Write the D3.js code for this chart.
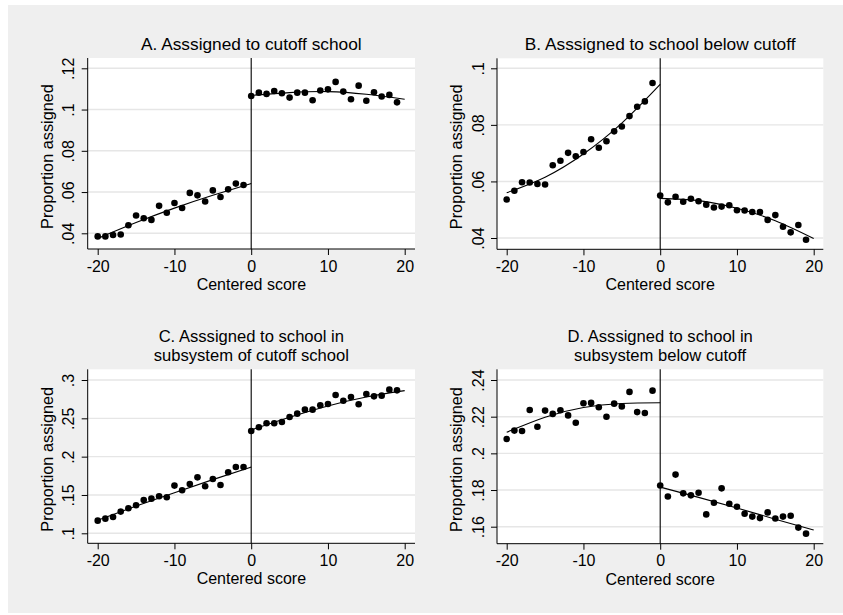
<!DOCTYPE html>
<html>
<head>
<meta charset="utf-8">
<script src="https://cdn.jsdelivr.net/npm/d3@7"></script>
<style>
  html, body { margin: 0; padding: 0; background: #ffffff; }
  svg { display: block; font-family: "Liberation Sans", Arial, Helvetica, sans-serif; }
</style>
</head>
<body>
<svg id="chart" width="843" height="615"></svg>
<script>
// Centered score bins on each side of the cutoff
const scoresBelow = [-20, -19, -18, -17, -16, -15, -14, -13, -12, -11, -10, -9, -8, -7, -6, -5, -4, -3, -2, -1];
const scoresAbove = [0, 1, 2, 3, 4, 5, 6, 7, 8, 9, 10, 11, 12, 13, 14, 15, 16, 17, 18, 19];

// Knots of the fitted curves on each side
const fitScoresBelow = [-20, -15, -10, -5, 0];
const fitScoresAbove = [0, 5, 10, 15, 20];

const xTicks = [-20, -10, 0, 10, 20];

// A. Assigned to cutoff school
const cutoffBelow = [0.0385, 0.0385, 0.0392, 0.0394, 0.0439, 0.0486, 0.0473, 0.0465, 0.0533, 0.0500,
                     0.0547, 0.0523, 0.0596, 0.0584, 0.0554, 0.0608, 0.0576, 0.0613, 0.0641, 0.0634];
const cutoffAbove = [0.1066, 0.1082, 0.1076, 0.1090, 0.1079, 0.1058, 0.1082, 0.1082, 0.1045, 0.1092,
                     0.1098, 0.1134, 0.1087, 0.1050, 0.1116, 0.1043, 0.1084, 0.1063, 0.1071, 0.1035];
const cutoffFitBelow = [0.0375, 0.0452, 0.0522, 0.0584, 0.0641];
const cutoffFitAbove = [0.1069, 0.1082, 0.1087, 0.1074, 0.1050];
const cutoffTicks = [0.04, 0.06, 0.08, 0.10, 0.12];
const cutoffTickLabels = [".04", ".06", ".08", ".1", ".12"];

// B. Assigned to school below cutoff
const belowBelow = [0.0536, 0.0567, 0.0597, 0.0596, 0.0591, 0.0589, 0.0657, 0.0673, 0.0701, 0.0689,
                    0.0704, 0.0749, 0.0719, 0.0742, 0.0777, 0.0794, 0.0831, 0.0864, 0.0883, 0.0948];
const belowAbove = [0.0550, 0.0526, 0.0546, 0.0528, 0.0539, 0.0530, 0.0518, 0.0508, 0.0511, 0.0516,
                    0.0498, 0.0497, 0.0492, 0.0492, 0.0464, 0.0481, 0.0440, 0.0420, 0.0446, 0.0394];
const belowFitBelow = [0.0560, 0.0615, 0.0697, 0.0806, 0.0943];
const belowFitAbove = [0.0540, 0.0532, 0.0505, 0.0461, 0.0398];
const belowTicks = [0.04, 0.06, 0.08, 0.10];
const belowTickLabels = [".04", ".06", ".08", ".1"];

// C. Assigned to school in subsystem of cutoff school
const subCutoffBelow = [0.1165, 0.1191, 0.1213, 0.1283, 0.1326, 0.1365, 0.1435, 0.1452, 0.1483, 0.1470,
                        0.1622, 0.1561, 0.1643, 0.1730, 0.1613, 0.1709, 0.1630, 0.1796, 0.1865, 0.1865];
const subCutoffAbove = [0.2335, 0.2383, 0.2435, 0.2435, 0.2452, 0.2517, 0.2561, 0.2613, 0.2613, 0.2670,
                        0.2687, 0.2804, 0.2730, 0.2778, 0.2683, 0.2817, 0.2787, 0.2796, 0.2874, 0.2865];
const subCutoffFitBelow = [0.1170, 0.1355, 0.1530, 0.1700, 0.1865];
const subCutoffFitAbove = [0.2348, 0.2513, 0.2661, 0.2778, 0.2861];
const subCutoffTicks = [0.10, 0.15, 0.20, 0.25, 0.30];
const subCutoffTickLabels = [".1", ".15", ".2", ".25", ".3"];

// D. Assigned to school in subsystem below cutoff
const subBelowBelow = [0.2078, 0.2124, 0.2122, 0.2236, 0.2145, 0.2233, 0.2215, 0.2235, 0.2207, 0.2167,
                       0.2273, 0.2275, 0.2251, 0.2200, 0.2271, 0.2256, 0.2335, 0.2225, 0.2220, 0.2342];
const subBelowAbove = [0.1825, 0.1765, 0.1884, 0.1782, 0.1771, 0.1785, 0.1667, 0.1731, 0.1809, 0.1725,
                       0.1709, 0.1671, 0.1655, 0.1647, 0.1678, 0.1645, 0.1655, 0.1660, 0.1595, 0.1562];
const subBelowFitBelow = [0.2115, 0.2197, 0.2250, 0.2272, 0.2276];
const subBelowFitAbove = [0.1816, 0.1760, 0.1702, 0.1641, 0.1582];
const subBelowTicks = [0.16, 0.18, 0.20, 0.22, 0.24];
const subBelowTickLabels = [".16", ".18", ".2", ".22", ".24"];

const titleA = ["A. Asssigned to cutoff school"];
const titleB = ["B. Asssigned to school below cutoff"];
const titleC = ["C. Asssigned to school in", "subsystem of cutoff school"];
const titleD = ["D. Asssigned to school in", "subsystem below cutoff"];
const xTitle = "Centered score";
const yTitle = "Proportion assigned";

// Panel geometry: plot box, and pixel anchors of the first/last ticks
const panels = [
  { title: titleA, below: cutoffBelow, above: cutoffAbove, fitBelow: cutoffFitBelow, fitAbove: cutoffFitAbove,
    ticks: cutoffTicks, labels: cutoffTickLabels,
    box: { left: 87.7, right: 415, top: 58, bottom: 249 }, xr: [97.7, 404.7], yr: [233.3, 68.3] },
  { title: titleB, below: belowBelow, above: belowAbove, fitBelow: belowFitBelow, fitAbove: belowFitAbove,
    ticks: belowTicks, labels: belowTickLabels,
    box: { left: 497, right: 823.3, top: 58.3, bottom: 249.3 }, xr: [506.7, 813.7], yr: [238, 68.3] },
  { title: titleC, below: subCutoffBelow, above: subCutoffAbove, fitBelow: subCutoffFitBelow, fitAbove: subCutoffFitAbove,
    ticks: subCutoffTicks, labels: subCutoffTickLabels,
    box: { left: 87.7, right: 415, top: 369.3, bottom: 543.3 }, xr: [97.7, 404.7], yr: [533.3, 380] },
  { title: titleD, below: subBelowBelow, above: subBelowAbove, fitBelow: subBelowFitBelow, fitAbove: subBelowFitAbove,
    ticks: subBelowTicks, labels: subBelowTickLabels,
    box: { left: 497, right: 823.3, top: 369.3, bottom: 543.7 }, xr: [506.7, 813.7], yr: [526.7, 380] }
];

const svg = d3.select("#chart");

// graph region background
svg.append("rect").attr("x", 8).attr("y", 5).attr("width", 835).attr("height", 608).attr("fill", "#efefef");

panels.forEach(p => {
  const b = p.box;
  const x = d3.scaleLinear().domain([xTicks[0], xTicks[xTicks.length - 1]]).range(p.xr);
  const y = d3.scaleLinear().domain([p.ticks[0], p.ticks[p.ticks.length - 1]]).range(p.yr);
  const g = svg.append("g");

  // white plot region
  g.append("rect").attr("x", b.left).attr("y", b.top)
    .attr("width", b.right - b.left).attr("height", b.bottom - b.top).attr("fill", "#ffffff");

  // horizontal grid lines
  g.selectAll("line.grid").data(p.ticks).join("line").attr("class", "grid")
    .attr("x1", b.left).attr("x2", b.right)
    .attr("y1", d => y(d)).attr("y2", d => y(d))
    .attr("stroke", "#e6e6e6").attr("stroke-width", 1.4);

  // y axis
  const yAxis = d3.axisLeft(y).tickValues(p.ticks).tickSize(6).tickPadding(0)
    .tickFormat((d, i) => p.labels[i]);
  const ya = g.append("g").attr("transform", `translate(${b.left},0)`).call(yAxis);
  ya.select(".domain").attr("d", `M0,${b.top}V${b.bottom}`).attr("stroke", "#000");
  ya.selectAll(".tick line").attr("stroke", "#000");
  ya.selectAll(".tick text")
    .attr("x", null).attr("dy", null)
    .attr("transform", "translate(-13.5,0) rotate(-90)")
    .attr("text-anchor", "middle")
    .attr("font-size", 16).attr("font-family", null).attr("fill", "#000");

  // x axis
  const xAxis = d3.axisBottom(x).tickValues(xTicks).tickSize(6).tickPadding(0).tickFormat(d3.format("d"));
  const xa = g.append("g").attr("transform", `translate(0,${b.bottom})`).call(xAxis);
  xa.select(".domain").attr("d", `M${b.left},0H${b.right}`).attr("stroke", "#000");
  xa.selectAll(".tick line").attr("stroke", "#000");
  xa.selectAll(".tick text").attr("y", 22.5).attr("dy", null)
    .attr("font-size", 16).attr("font-family", null).attr("fill", "#000")
    .text(d => d < 0 ? "-" + Math.abs(d) : String(d));

  // cutoff line
  g.append("line").attr("x1", x(0)).attr("x2", x(0)).attr("y1", b.top).attr("y2", b.bottom)
    .attr("stroke", "#000").attr("stroke-width", 1.1);

  // fitted curves
  const line = d3.line().x(d => x(d[0])).y(d => y(d[1])).curve(d3.curveNatural);
  g.append("path").datum(fitScoresBelow.map((s, i) => [s, p.fitBelow[i]]))
    .attr("d", line).attr("fill", "none").attr("stroke", "#000").attr("stroke-width", 1.1);
  g.append("path").datum(fitScoresAbove.map((s, i) => [s, p.fitAbove[i]]))
    .attr("d", line).attr("fill", "none").attr("stroke", "#000").attr("stroke-width", 1.1);

  // binned means
  const pts = scoresBelow.map((s, i) => [s, p.below[i]]).concat(scoresAbove.map((s, i) => [s, p.above[i]]));
  g.selectAll("circle.pt").data(pts).join("circle").attr("class", "pt")
    .attr("cx", d => x(d[0])).attr("cy", d => y(d[1])).attr("r", 3.3).attr("fill", "#000");

  // titles (two-line titles use a single text element with tspans)
  const cx = (b.left + b.right) / 2;
  const twoLine = p.title.length > 1;
  const titleSize = twoLine ? 16.6 : 17.3;
  const lineGap = 19.2;
  const tBase = b.top - 8 - (p.title.length - 1) * lineGap;
  const title = g.append("text").attr("x", cx).attr("y", tBase).attr("text-anchor", "middle")
    .attr("font-size", titleSize).attr("fill", "#000");
  p.title.forEach((t, i) => {
    title.append("tspan").attr("x", cx).attr("dy", i === 0 ? 0 : lineGap).text(t);
  });

  // axis titles
  g.append("text").attr("x", cx).attr("y", b.bottom + 41).attr("text-anchor", "middle")
    .attr("font-size", 16).attr("fill", "#000").text(xTitle);
  const yMid = (b.top + b.bottom) / 2 + 3;
  g.append("text").attr("transform", `translate(${b.left - 35},${yMid}) rotate(-90)`)
    .attr("text-anchor", "middle").attr("font-size", 16.3).attr("fill", "#000").text(yTitle);
});
</script>
</body>
</html>
